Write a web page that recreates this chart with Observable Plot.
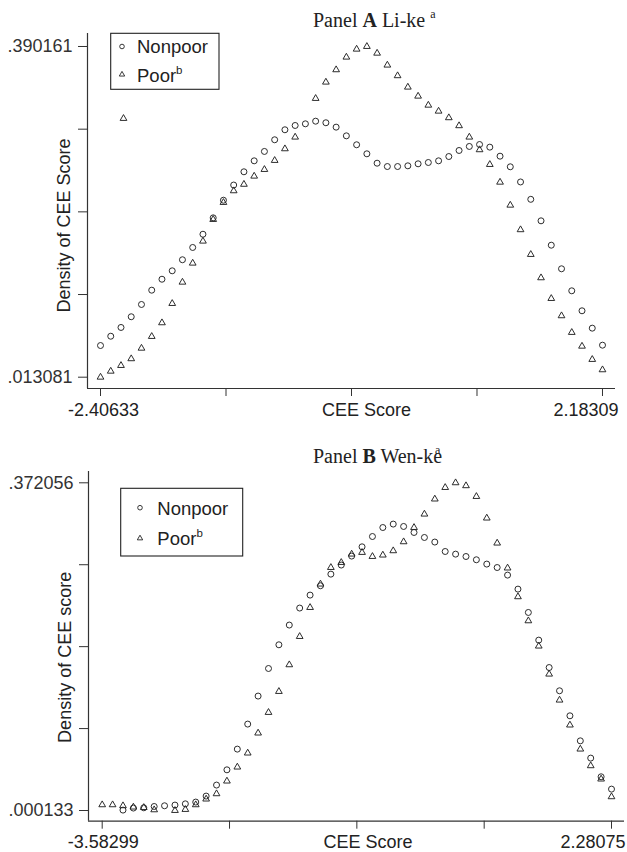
<!DOCTYPE html>
<html>
<head>
<meta charset="utf-8">
<script src="https://cdn.jsdelivr.net/npm/d3@7"></script>
<script src="https://cdn.jsdelivr.net/npm/@observablehq/plot@0.6"></script>
<style>
  html, body { margin: 0; padding: 0; background: #fff; }
  #wrap { position: relative; width: 627px; height: 852px; overflow: hidden; background: #fff; }
  .title { position: absolute; font-family: 'Liberation Serif', 'Times New Roman', serif; font-size: 20px; line-height: 20px; color: #222; white-space: nowrap; }
  .title sup { font-size: 12px; vertical-align: 0; position: relative; top: -9px; }
  .panel { position: absolute; left: 0; }
</style>
</head>
<body>
<div id="wrap">
  <div class="title" style="left:313px; top:10px;">Panel <b>A</b> Li-ke <sup>a</sup></div>
  <div class="title" style="left:313px; top:446px;">Panel <b>B</b> Wen-ke<sup style="margin-left:-7px">a</sup></div>
</div>
<script>
// ---------- Panel A: Li-ke ----------
const scoreA = [-2.4063,-2.3127,-2.2190,-2.1254,-2.0317,-1.9380,-1.8444,-1.7507,-1.6571,-1.5634,
  -1.4697,-1.3761,-1.2824,-1.1887,-1.0951,-1.0014,-0.9078,-0.8141,-0.7204,-0.6268,
  -0.5331,-0.4395,-0.3458,-0.2521,-0.1585,-0.0648,0.0289,0.1225,0.2162,0.3098,
  0.4035,0.4972,0.5908,0.6845,0.7781,0.8718,0.9655,1.0591,1.1528,1.2464,
  1.3401,1.4338,1.5274,1.6211,1.7148,1.8084,1.9021,1.9957,2.0894,2.1831];
const nonpoorA = [0.0492,0.0598,0.0698,0.0820,0.0960,0.1123,0.1248,0.1344,0.1470,0.1610,
  0.1761,0.1948,0.2149,0.2322,0.2473,0.2598,0.2705,0.2838,0.2952,0.3001,
  0.3020,0.3050,0.3032,0.2982,0.2883,0.2781,0.2678,0.2571,0.2533,0.2533,
  0.2541,0.2564,0.2579,0.2598,0.2647,0.2716,0.2762,0.2784,0.2754,0.2651,
  0.2530,0.2357,0.2159,0.1914,0.1636,0.1367,0.1116,0.0888,0.0690,0.0496];
const poorA = [0.013081,0.0199,0.0264,0.0341,0.0461,0.0595,0.0751,0.0971,0.1214,0.1431,
  0.1682,0.1929,0.2123,0.2256,0.2330,0.2423,0.2499,0.2602,0.2735,0.2868,
  null,0.3309,0.3495,0.3636,0.3780,0.3871,0.390161,0.3825,0.3689,0.3568,
  0.3438,0.3335,0.3232,0.3164,0.3089,0.2998,0.2868,0.2724,0.2556,0.2354,
  0.2092,0.1812,0.1530,0.1264,0.1028,0.0831,0.0641,0.0484,0.0333,0.0215];
// one Poor marker appears displaced to the left, next to the legend
const strayPoorA = [[-2.1961, 0.3081]];
const xTicksA = [-2.40633, -1.258975, -0.11162, 1.035735, 2.18309];
const xTickLabelsA = ["-2.40633", "", "", "", "2.18309"];
const yTicksA = [0.013081, 0.107351, 0.201621, 0.295891, 0.390161];
const yTickLabelsA = [".013081", "", "", "", ".390161"];

// ---------- Panel B: Wen-ke ----------
const scoreB = [-3.5830,-3.4633,-3.3436,-3.2240,-3.1043,-2.9846,-2.8650,-2.7453,-2.6256,-2.5060,
  -2.3863,-2.2666,-2.1470,-2.0273,-1.9076,-1.7880,-1.6683,-1.5486,-1.4290,-1.3093,
  -1.1896,-1.0700,-0.9503,-0.8306,-0.7110,-0.5913,-0.4716,-0.3519,-0.2323,-0.1126,
  0.0071,0.1267,0.2464,0.3661,0.4858,0.6054,0.7251,0.8448,0.9644,1.0841,
  1.2038,1.3234,1.4431,1.5628,1.6824,1.8021,1.9218,2.0414,2.1611,2.2808];
const nonpoorB = [null,null,0.0006,0.0029,0.0032,0.0047,0.0055,0.0063,0.0077,0.0097,
  0.0165,0.0290,0.0463,0.0698,0.0982,0.1300,0.1613,0.1882,0.2106,0.2299,
  0.2446,0.2552,0.2684,0.2787,0.2889,0.2994,0.3111,0.3213,0.3252,0.3225,
  0.3157,0.3100,0.3048,0.2941,0.2911,0.2884,0.2847,0.2798,0.2759,0.2673,
  0.2514,0.2249,0.1935,0.1624,0.1360,0.1076,0.0792,0.0596,0.0384,0.0244];
const poorB = [0.0066,0.0066,0.0055,0.0040,0.0035,0.0009,null,0.000133,0.0013,0.0066,
  0.0131,0.0191,0.0335,0.0494,0.0653,0.0880,0.1114,0.1352,0.1655,0.1976,
  0.2305,0.2571,0.2759,0.2816,0.2911,0.2930,0.2884,0.2900,0.2949,0.3051,
  0.3213,0.3365,0.3536,0.3667,0.372056,0.3687,0.3565,0.3320,0.3036,0.2753,
  0.2427,0.2154,0.1867,0.1549,0.1254,0.0971,0.0698,0.0509,0.0358,0.0157];
const strayPoorB = [];
const xTicksB = [-3.58299, -2.117055, -0.65112, 0.814815, 2.28075];
const xTickLabelsB = ["-3.58299", "", "", "", "2.28075"];
const yTicksB = [0.000133, 0.093114, 0.186095, 0.279075, 0.372056];
const yTickLabelsB = [".000133", "", "", "", ".372056"];

const seriesNames = ["Nonpoor", "Poor"];
const xTitle = "CEE Score";
const yTitleA = "Density of CEE Score";
const yTitleB = "Density of CEE score";

// ---------- drawing ----------
const FONT = "'Liberation Sans', Arial, Helvetica, sans-serif";
const INK = "#222";
const AXIS = "#333";

function points(score, dens) {
  return score.map((s, i) => ({score: s, density: dens[i]})).filter(d => d.density != null);
}

function panel(o) {
  const np = points(o.score, o.nonpoor);
  const pp = points(o.score, o.poor).concat(o.stray.map(([s, d]) => ({score: s, density: d})));
  const xl = o.xTicks.map((t, i) => ({t, label: o.xLabels[i]})).filter(d => d.label);
  const labDy = 8 + o.xPad;
  return Plot.plot({
    width: 627,
    height: o.height,
    marginTop: o.mt, marginBottom: o.mb, marginLeft: o.ml, marginRight: o.mr,
    style: {fontFamily: FONT, fontSize: "18px", color: AXIS, background: "transparent", overflow: "visible"},
    x: {domain: o.xDomain, ticks: o.xTicks, tickFormat: () => "", tickSize: 8, label: null},
    y: {domain: o.yDomain, ticks: o.yTicks, tickFormat: d => o.yLabels[o.yTicks.indexOf(d)] ?? "",
        tickSize: 9, tickPadding: 6, label: null},
    marks: [
      Plot.ruleX([o.xDomain[0]], {stroke: AXIS, strokeWidth: 1.2}),
      Plot.ruleY([o.yDomain[0]], {stroke: AXIS, strokeWidth: 1.2}),
      Plot.dot(np, {x: "score", y: "density", symbol: "circle", r: 3.0, fill: "none", stroke: INK, strokeWidth: 0.95}),
      Plot.dot(pp, {x: "score", y: "density", symbol: "triangle", r: 2.5, fill: "none", stroke: INK, strokeWidth: 0.95}),
      // end tick labels (the right one is pulled inside the figure, as in the original)
      Plot.text([xl[0]], {x: "t", text: "label", frameAnchor: "bottom", lineAnchor: "top", dy: labDy, dx: o.leftDx, fill: INK, fontSize: 18}),
      Plot.text([xl[1]], {x: "t", text: "label", frameAnchor: "bottom", lineAnchor: "top", textAnchor: "end", dy: labDy, dx: o.rightDx, fill: INK, fontSize: 18}),
      Plot.text([xTitle], {text: d => d, frameAnchor: "bottom", lineAnchor: "top", dy: labDy, dx: o.xTitleDx, fill: INK, fontSize: 18}),
      Plot.text([o.yTitle], {text: d => d, frameAnchor: "left", textAnchor: "middle", rotate: -90, dx: -23, dy: o.yTitleDy, fill: INK, fontSize: 18})
    ]
  });
}

const wrap = document.getElementById("wrap");

const plotA = panel({
  score: scoreA, nonpoor: nonpoorA, poor: poorA, stray: strayPoorA,
  xDomain: [-2.52518, 2.30194], yDomain: [0.000196, 0.404984],
  xTicks: xTicksA, xLabels: xTickLabelsA, yTicks: yTicksA, yLabels: yTickLabelsA,
  yTitle: yTitleA, height: 430, mt: 33, mb: 42, ml: 87, mr: 12, xPad: 7,
  leftDx: 3, rightDx: 16, xTitleDx: 15, yTitleDy: 14.5
});
plotA.classList.add("panel");
plotA.style.top = "0px";
wrap.appendChild(plotA);

const plotB = panel({
  score: scoreB, nonpoor: nonpoorB, poor: poorB, stray: strayPoorB,
  xDomain: [-3.74072, 2.43042], yDomain: [-0.012011, 0.384881],
  xTicks: xTicksB, xLabels: xTickLabelsB, yTicks: yTicksB, yLabels: yTickLabelsB,
  yTitle: yTitleB, height: 412, mt: 31, mb: 31.3, ml: 88, mr: 3, xPad: 6,
  leftDx: 1, rightDx: 14, xTitleDx: 11.5, yTitleDy: 11
});
plotB.classList.add("panel");
plotB.style.top = "440px";
wrap.appendChild(plotB);

// ---------- legends ----------
const ov = d3.select(wrap).append("svg")
  .attr("width", 627).attr("height", 852)
  .style("position", "absolute").style("left", "0px").style("top", "0px")
  .style("font-family", FONT).style("pointer-events", "none");

const legends = [
  {x0: 110.7, y0: 33.3, x1: 219, y1: 89.3, mx: 122, tx: 137, rows: [46.5, 74.5], base: [52.7, 81.7]},
  {x0: 120.7, y0: 488.3, x1: 242.7, y1: 556, mx: 140, tx: 157.3, rows: [507.7, 538.3], base: [515, 545]}
];
const circ = d3.symbol(d3.symbolCircle, Math.PI * 2.3 * 2.3)();
const tri = d3.symbol(d3.symbolTriangle, Math.PI * 2.0 * 2.0)();
for (const L of legends) {
  const g = ov.append("g");
  g.append("rect").attr("x", L.x0).attr("y", L.y0).attr("width", L.x1 - L.x0).attr("height", L.y1 - L.y0)
    .attr("fill", "#fff").attr("stroke", INK).attr("stroke-width", 1.1);
  seriesNames.forEach((name, i) => {
    g.append("path").attr("d", i === 0 ? circ : tri)
      .attr("transform", `translate(${L.mx},${L.rows[i]})`)
      .attr("fill", "none").attr("stroke", INK).attr("stroke-width", 0.9);
    const t = g.append("text").attr("x", L.tx).attr("y", L.base[i])
      .attr("font-size", 18.5).attr("fill", INK).text(name);
    if (i === 1) t.append("tspan").attr("dy", -8).attr("font-size", 11.5).text("b");
  });
}
</script>
</body>
</html>
